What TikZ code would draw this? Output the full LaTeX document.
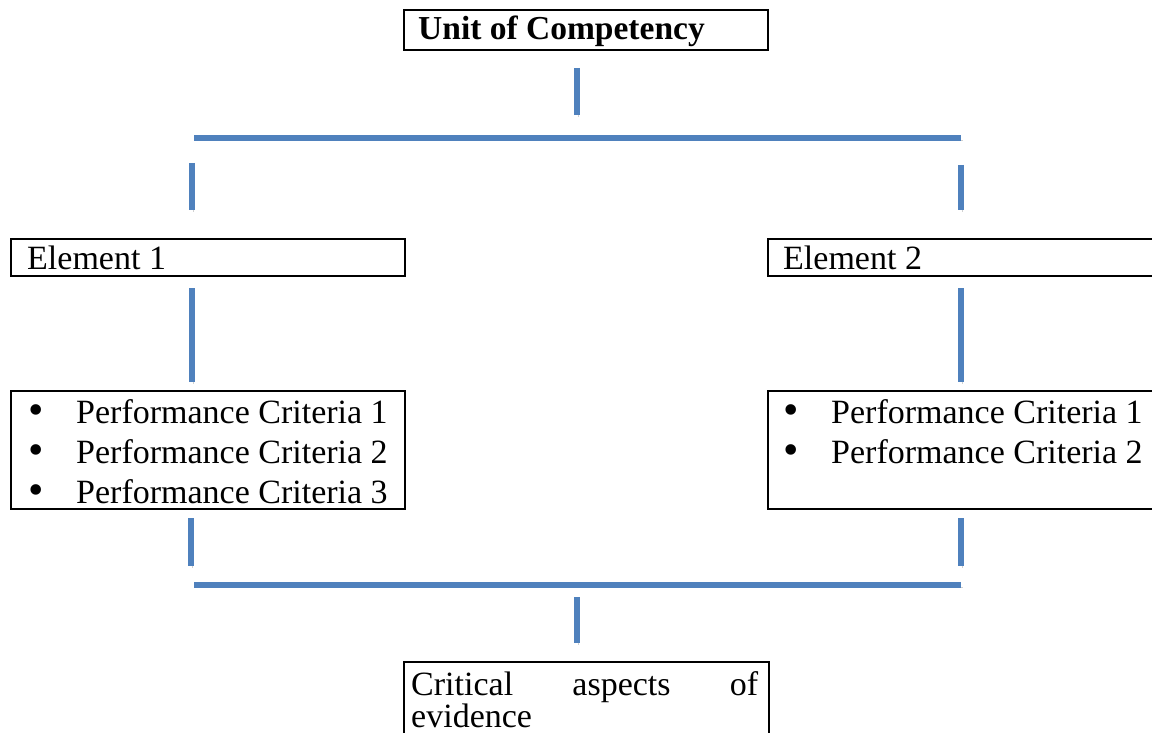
\documentclass[tikz,border=0pt]{standalone}
\usepackage{fontspec}
\setmainfont{Liberation Serif}
\usetikzlibrary{positioning}
\definecolor{linkblue}{HTML}{4F81BD}

\tikzset{
  frame/.style={draw, line width=2pt, inner sep=0pt, anchor=north west},
  link/.style={linkblue, line width=5.5pt,
    preaction={draw=black, opacity=0.18, transform canvas={shift={(1.5pt,-2pt)}}}},
  txt/.style={anchor=base west, inner sep=0pt, font=\fontsize{34}{40}\selectfont},
}
\newcommand{\critline}[1]{\makebox[48pt][l]{\raisebox{-1pt}{\fontsize{44}{40}\selectfont\textbullet}}Performance Criteria #1}

\begin{document}
\begin{tikzpicture}[x=1pt,y=-1pt]
\useasboundingbox (0,0) rectangle (1152,733);

% boxes
\node[frame, minimum width=364, minimum height=40] (unit) at (403,9) {};
\node[frame, minimum width=394, minimum height=37] (elemA) at (10,238) {};
\node[frame, minimum width=420, minimum height=37] (elemB) at (767,238) {};
\node[frame, minimum width=394, minimum height=118] (critA) at (10,390) {};
\node[frame, minimum width=420, minimum height=118] (critB) at (767,390) {};
\node[frame, minimum width=365, minimum height=120] (aspect) at (403,661) {};

% texts
\node[txt, font=\fontsize{33.5}{40}\selectfont\bfseries] (unittxt) at (418,40) {Unit of Competency};
\node[txt] (elemAtxt) at (27,269) {Element 1};
\node[txt] (elemBtxt) at (783,269) {Element 2};
\node[txt] (critA1) at (28,423) {\critline{1}};
\node[txt] (critA2) at (28,463) {\critline{2}};
\node[txt] (critA3) at (28,503) {\critline{3}};
\node[txt] (critB1) at (783,423) {\critline{1}};
\node[txt] (critB2) at (783,463) {\critline{2}};
\node[txt] (aspect1) at (411,695) {\makebox[347pt][s]{Critical\hfill aspects\hfill of}};
\node[txt] (aspect2) at (411,727) {evidence};

% connector ends
\coordinate (u1) at (577,68);   \coordinate (u2) at (577,115);
\coordinate (t1) at (194,138);  \coordinate (t2) at (961,138);
\coordinate (a1) at (192,163);  \coordinate (a2) at (192,210);
\coordinate (b1) at (961,165);  \coordinate (b2) at (961,210);
\coordinate (a3) at (192,288);  \coordinate (a4) at (192,382);
\coordinate (b3) at (961,288);  \coordinate (b4) at (961,382);
\coordinate (a5) at (191,518);  \coordinate (a6) at (191,566);
\coordinate (b5) at (961,518);  \coordinate (b6) at (961,566);
\coordinate (s1) at (194,585);  \coordinate (s2) at (961,585);
\coordinate (v1) at (577,597);  \coordinate (v2) at (577,643);

\draw[link] (u1) -- (u2);
\draw[link] (t1) -- (t2);
\draw[link] (a1) -- (a2);
\draw[link] (b1) -- (b2);
\draw[link] (a3) -- (a4);
\draw[link] (b3) -- (b4);
\draw[link] (a5) -- (a6);
\draw[link] (b5) -- (b6);
\draw[link] (s1) -- (s2);
\draw[link] (v1) -- (v2);
\end{tikzpicture}
\end{document}
